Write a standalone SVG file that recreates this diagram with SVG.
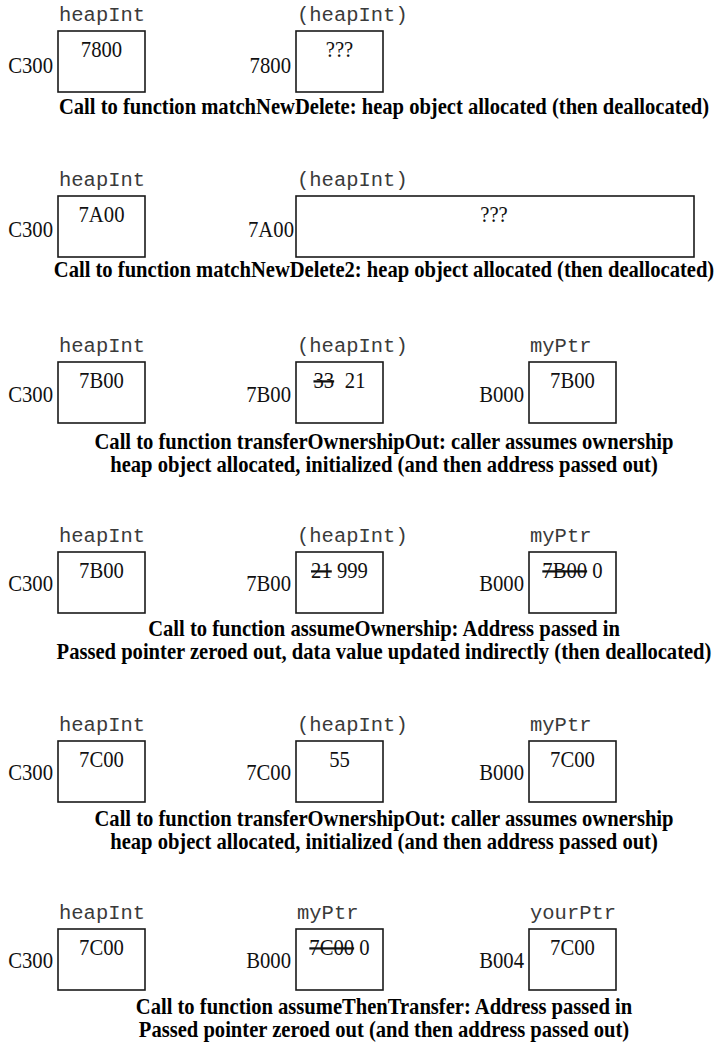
<svg xmlns="http://www.w3.org/2000/svg" width="717" height="1043" viewBox="0 0 717 1043">
  <style>
    .box { fill: #fff; stroke: #1a1a1a; stroke-width: 1.6; }
    .name { font-family: "Liberation Mono", "Courier New", monospace; font-size: 20.5px; fill: #3a3a3a; }
    .val { font-family: "Liberation Serif", "Times New Roman", serif; font-size: 22.5px; fill: #111; text-anchor: middle; }
    .addr { font-family: "Liberation Serif", "Times New Roman", serif; font-size: 22.5px; fill: #111; text-anchor: end; }
    .cap { font-family: "Liberation Serif", "Times New Roman", serif; font-size: 22.5px; font-weight: bold; fill: #000; text-anchor: middle; }
    .struck { text-decoration: line-through; }
  </style>
  <rect width="717" height="1043" fill="#fff"/>

  <!-- matchNewDelete -->
  <g id="s1-heapInt">
    <text class="name" x="59" y="21">heapInt</text>
    <rect class="box" x="58" y="31" width="87" height="61"/>
    <text class="val" transform="translate(101.5,57) scale(0.92,1)">7800</text>
    <text class="addr" transform="translate(53,73) scale(0.92,1)">C300</text>
  </g>
  <g id="s1-heapObj">
    <text class="name" x="297" y="21">(heapInt)</text>
    <rect class="box" x="296" y="31" width="87" height="61"/>
    <text class="val" transform="translate(339.5,57) scale(0.92,1)">???</text>
    <text class="addr" transform="translate(291,73) scale(0.92,1)">7800</text>
  </g>
  <text id="s1-caption" class="cap" transform="translate(384,114) scale(0.915,1)">Call to function matchNewDelete: heap object allocated (then deallocated)</text>

  <!-- matchNewDelete2 -->
  <g id="s2-heapInt">
    <text class="name" x="59" y="186">heapInt</text>
    <rect class="box" x="58" y="196" width="87" height="61"/>
    <text class="val" transform="translate(101.5,222) scale(0.92,1)">7A00</text>
    <text class="addr" transform="translate(53,237) scale(0.92,1)">C300</text>
  </g>
  <g id="s2-heapObj">
    <text class="name" x="297" y="186">(heapInt)</text>
    <rect class="box" x="296" y="196" width="398" height="61"/>
    <text class="val" transform="translate(494,222) scale(0.92,1)">???</text>
    <text class="addr" transform="translate(294,237) scale(0.92,1)">7A00</text>
  </g>
  <text id="s2-caption" class="cap" transform="translate(384,277) scale(0.915,1)">Call to function matchNewDelete2: heap object allocated (then deallocated)</text>

  <!-- transferOwnershipOut -->
  <g id="s3-heapInt">
    <text class="name" x="59" y="352">heapInt</text>
    <rect class="box" x="58" y="362" width="87" height="61"/>
    <text class="val" transform="translate(101.5,388) scale(0.92,1)">7B00</text>
    <text class="addr" transform="translate(53,402) scale(0.92,1)">C300</text>
  </g>
  <g id="s3-heapObj">
    <text class="name" x="297" y="352">(heapInt)</text>
    <rect class="box" x="296" y="362" width="87" height="61"/>
    <text class="val" transform="translate(339.5,388) scale(0.92,1)"><tspan class="struck">33</tspan><tspan dx="6"> 21</tspan></text>
    <text class="addr" transform="translate(291,402) scale(0.92,1)">7B00</text>
  </g>
  <g id="s3-myPtr">
    <text class="name" x="530" y="352">myPtr</text>
    <rect class="box" x="529" y="362" width="87" height="61"/>
    <text class="val" transform="translate(572.5,388) scale(0.92,1)">7B00</text>
    <text class="addr" transform="translate(524,402) scale(0.92,1)">B000</text>
  </g>
  <g id="s3-caption">
    <text class="cap" transform="translate(384,449) scale(0.915,1)">Call to function transferOwnershipOut: caller assumes ownership</text>
    <text class="cap" transform="translate(384,472) scale(0.915,1)">heap object allocated, initialized (and then address passed out)</text>
  </g>

  <!-- assumeOwnership -->
  <g id="s4-heapInt">
    <text class="name" x="59" y="542">heapInt</text>
    <rect class="box" x="58" y="552" width="87" height="61"/>
    <text class="val" transform="translate(101.5,578) scale(0.92,1)">7B00</text>
    <text class="addr" transform="translate(53,591) scale(0.92,1)">C300</text>
  </g>
  <g id="s4-heapObj">
    <text class="name" x="297" y="542">(heapInt)</text>
    <rect class="box" x="296" y="552" width="87" height="61"/>
    <text class="val" transform="translate(339.5,578) scale(0.92,1)"><tspan class="struck">21</tspan> 999</text>
    <text class="addr" transform="translate(291,591) scale(0.92,1)">7B00</text>
  </g>
  <g id="s4-myPtr">
    <text class="name" x="530" y="542">myPtr</text>
    <rect class="box" x="529" y="552" width="87" height="61"/>
    <text class="val" transform="translate(572.5,578) scale(0.92,1)"><tspan class="struck">7B00</tspan> 0</text>
    <text class="addr" transform="translate(524,591) scale(0.92,1)">B000</text>
  </g>
  <g id="s4-caption">
    <text class="cap" transform="translate(384,636) scale(0.915,1)">Call to function assumeOwnership: Address passed in</text>
    <text class="cap" transform="translate(384,659) scale(0.915,1)">Passed pointer zeroed out, data value updated indirectly (then deallocated)</text>
  </g>

  <!-- transferOwnershipOut, second call -->
  <g id="s5-heapInt">
    <text class="name" x="59" y="731">heapInt</text>
    <rect class="box" x="58" y="741" width="87" height="61"/>
    <text class="val" transform="translate(101.5,767) scale(0.92,1)">7C00</text>
    <text class="addr" transform="translate(53,780) scale(0.92,1)">C300</text>
  </g>
  <g id="s5-heapObj">
    <text class="name" x="297" y="731">(heapInt)</text>
    <rect class="box" x="296" y="741" width="87" height="61"/>
    <text class="val" transform="translate(339.5,767) scale(0.92,1)">55</text>
    <text class="addr" transform="translate(291,780) scale(0.92,1)">7C00</text>
  </g>
  <g id="s5-myPtr">
    <text class="name" x="530" y="731">myPtr</text>
    <rect class="box" x="529" y="741" width="87" height="61"/>
    <text class="val" transform="translate(572.5,767) scale(0.92,1)">7C00</text>
    <text class="addr" transform="translate(524,780) scale(0.92,1)">B000</text>
  </g>
  <g id="s5-caption">
    <text class="cap" transform="translate(384,826) scale(0.915,1)">Call to function transferOwnershipOut: caller assumes ownership</text>
    <text class="cap" transform="translate(384,849) scale(0.915,1)">heap object allocated, initialized (and then address passed out)</text>
  </g>

  <!-- assumeThenTransfer -->
  <g id="s6-heapInt">
    <text class="name" x="59" y="919">heapInt</text>
    <rect class="box" x="58" y="929" width="87" height="61"/>
    <text class="val" transform="translate(101.5,955) scale(0.92,1)">7C00</text>
    <text class="addr" transform="translate(53,968) scale(0.92,1)">C300</text>
  </g>
  <g id="s6-myPtr">
    <text class="name" x="297" y="919">myPtr</text>
    <rect class="box" x="296" y="929" width="87" height="61"/>
    <text class="val" transform="translate(339.5,955) scale(0.92,1)"><tspan class="struck">7C00</tspan> 0</text>
    <text class="addr" transform="translate(291,968) scale(0.92,1)">B000</text>
  </g>
  <g id="s6-yourPtr">
    <text class="name" x="530" y="919">yourPtr</text>
    <rect class="box" x="529" y="929" width="87" height="61"/>
    <text class="val" transform="translate(572.5,955) scale(0.92,1)">7C00</text>
    <text class="addr" transform="translate(524,968) scale(0.92,1)">B004</text>
  </g>
  <g id="s6-caption">
    <text class="cap" transform="translate(384,1014) scale(0.915,1)">Call to function assumeThenTransfer: Address passed in</text>
    <text class="cap" transform="translate(384,1037) scale(0.915,1)">Passed pointer zeroed out (and then address passed out)</text>
  </g>
</svg>
